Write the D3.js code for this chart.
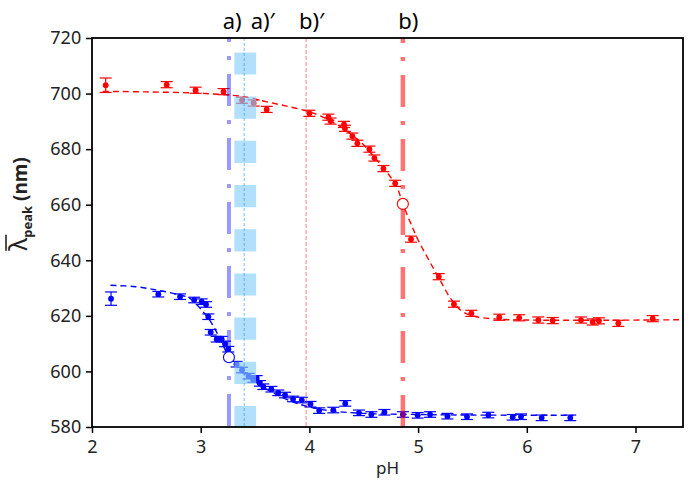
<!DOCTYPE html>
<html><head><meta charset="utf-8">
<script src="https://cdn.jsdelivr.net/npm/d3@7"></script>
<style>body{margin:0;background:#fff;}svg{display:block;font-family:"Noto Sans","Open Sans",sans-serif;}</style>
</head><body><div id="chart"></div>
<script>
// ---- data ----
const xTicks = [2,3,4,5,6,7];
const yTicks = [580,600,620,640,660,680,700,720];

const redPH  = [2.126,2.687,2.953,3.21,3.38,3.487,3.607,4.0,4.175,4.195,4.318,4.327,4.395,4.441,4.552,4.598,4.681,4.789,4.935,5.19,5.33,5.49,5.747,5.93,6.106,6.238,6.499,6.606,6.664,6.842,7.158];
const redVal = [703.0,703.2,701.2,700.7,697.6,696.6,694.3,692.9,691.5,690.1,688.9,687.5,684.7,682.1,680.0,676.8,673.0,667.7,647.6,634.1,624.2,620.9,619.5,619.3,618.5,618.3,618.5,617.8,618.2,617.3,619.0];
const redErr = [2.6,1.1,1.1,1.1,1.1,1.1,1.1,1.1,1.1,1.1,1.1,1.1,1.1,1.1,1.1,1.1,1.1,1.1,1.1,1.1,1.1,1.1,1.1,1.1,1.1,1.1,1.1,1.1,1.1,1.1,1.1];
const redMid = [4.86, 660.3];

const bluePH  = [2.175,2.61,2.81,2.94,3.009,3.049,3.07,3.092,3.147,3.193,3.224,3.254,3.33,3.38,3.44,3.484,3.515,3.545,3.576,3.65,3.714,3.776,3.85,3.93,4.01,4.09,4.22,4.33,4.456,4.57,4.69,4.86,4.996,5.11,5.27,5.45,5.646,5.87,5.947,6.137,6.4];
const blueVal = [626.2,627.8,626.9,625.7,625.1,624.1,619.7,614.1,611.6,611.6,609.9,608.0,602.6,600.5,598.3,597.1,597.5,595.7,594.5,593.6,592.3,591.5,590.1,589.7,588.2,585.9,586.1,588.5,585.1,584.5,585.3,584.5,584.2,584.5,583.9,583.7,584.3,583.5,583.7,583.3,583.3];
const blueErr = [2.4,1.0,1.0,1.0,1.0,1.0,1.0,1.0,1.0,1.0,1.0,1.0,1.0,1.0,1.0,1.0,1.0,1.0,1.0,1.0,1.0,1.0,1.0,1.0,1.0,1.0,1.0,1.0,1.0,1.0,1.0,1.0,1.0,1.0,1.0,1.0,1.0,1.0,1.0,1.0,1.0];
const blueMid = [3.26, 605.1];

const redFitPH  = [2.1,2.5,3.0,3.39,3.6,3.9,4.0,4.1,4.3,4.5,4.6,4.7,4.8,4.86,4.93,5.0,5.1,5.2,5.3,5.4,5.5,5.7,6.0,6.6,7.4];
const redFitVal = [700.8,700.6,700.1,698.9,697.1,694.5,693.4,692.0,687.7,681.5,677.0,672.3,666.8,660.3,653.5,647.3,640.0,633.0,626.2,621.8,620.0,618.9,618.5,618.4,618.6];
const blueFitPH  = [2.17,2.4,2.61,2.8,2.9,3.0,3.1,3.18,3.26,3.35,3.45,3.55,3.7,3.85,4.0,4.2,4.5,5.0,5.5,6.43];
const blueFitVal = [631.0,630.5,629.2,627.6,626.3,622.5,617.4,611.5,605.3,601.0,597.6,595.0,591.6,589.0,587.2,585.8,584.9,584.5,584.3,584.2];

const markerLabels = ["a)","a)\u2032","b)\u2032","b)"];
const markerPH = [3.26, 3.40, 3.97, 4.86];
const markerLabelPH = [3.29, 3.57, 4.02, 4.91];
const bandPH = [3.31, 3.51];

// ---- layout ----
const W = 689, H = 486;
const L = 92, R = 683, T = 38, B = 427;
const svg = d3.select("#chart").append("svg").attr("width", W).attr("height", H);
const x = d3.scaleLinear().domain([2, 2 + (R - L) / 108.7]).range([L, R]);
const y = d3.scaleLinear().domain([580, 720]).range([B, T]);

const RED = "#ff0000", BLUE = "#0000ff";
const plot = svg.append("g");

function errBars(ph, val, err, col) {
  const g = plot.append("g").attr("stroke", col).attr("stroke-width", 1.2);
  ph.forEach((p, i) => {
    const cx = x(p), y1 = y(val[i] + err[i]), y2 = y(val[i] - err[i]);
    g.append("line").attr("x1", cx).attr("x2", cx).attr("y1", y1).attr("y2", y2);
    g.append("line").attr("x1", cx - 6).attr("x2", cx + 6).attr("y1", y1).attr("y2", y1);
    g.append("line").attr("x1", cx - 6).attr("x2", cx + 6).attr("y1", y2).attr("y2", y2);
  });
}
function fitLine(ph, val, col) {
  const line = d3.line().x(d => x(d[0])).y(d => y(d[1])).curve(d3.curveCatmullRom);
  plot.append("path").attr("d", line(ph.map((p, i) => [p, val[i]])))
    .attr("fill", "none").attr("stroke", col).attr("stroke-width", 1.4).attr("stroke-dasharray", "6,4");
}
function dots(ph, val, col) {
  plot.append("g").selectAll("circle").data(ph).join("circle")
    .attr("cx", d => x(d)).attr("cy", (d, i) => y(val[i])).attr("r", 2.9).attr("fill", col);
}

fitLine(redFitPH, redFitVal, RED);
fitLine(blueFitPH, blueFitVal, BLUE);
errBars(redPH, redVal, redErr, RED);
errBars(bluePH, blueVal, blueErr, BLUE);
dots(redPH, redVal, RED);
dots(bluePH, blueVal, BLUE);

// ---- vertical markers (on top, translucent) ----
const vg = svg.append("g");
vg.append("line").attr("x1", x((bandPH[0] + bandPH[1]) / 2)).attr("x2", x((bandPH[0] + bandPH[1]) / 2))
  .attr("y1", T).attr("y2", B).attr("stroke", "#87cefa").attr("stroke-opacity", 0.65)
  .attr("stroke-width", x(bandPH[1]) - x(bandPH[0])).attr("stroke-dasharray", "22.2,22").attr("stroke-dashoffset", 29.8);
vg.append("line").attr("x1", x(markerPH[1])).attr("x2", x(markerPH[1])).attr("y1", T).attr("y2", B)
  .attr("stroke", "#1e90ff").attr("stroke-opacity", 0.6).attr("stroke-width", 1).attr("stroke-dasharray", "3,2");
vg.append("line").attr("x1", x(markerPH[0])).attr("x2", x(markerPH[0])).attr("y1", T).attr("y2", B)
  .attr("stroke", "#0000ff").attr("stroke-opacity", 0.4).attr("stroke-width", 4).attr("stroke-dasharray", "32,14,4,14").attr("stroke-dashoffset", 28);
vg.append("line").attr("x1", x(markerPH[2])).attr("x2", x(markerPH[2])).attr("y1", T).attr("y2", B)
  .attr("stroke", "#ff0000").attr("stroke-opacity", 0.5).attr("stroke-width", 1).attr("stroke-dasharray", "4,2");
vg.append("line").attr("x1", x(markerPH[3])).attr("x2", x(markerPH[3])).attr("y1", T).attr("y2", B)
  .attr("stroke", "#ff0000").attr("stroke-opacity", 0.55).attr("stroke-width", 4.5).attr("stroke-dasharray", "32,14,4,14").attr("stroke-dashoffset", 27);

// hollow midpoint markers above the vertical lines
svg.append("circle").attr("cx", x(redMid[0])).attr("cy", y(redMid[1])).attr("r", 5.5).attr("fill", "#fff").attr("stroke", RED).attr("stroke-width", 1.1);
svg.append("circle").attr("cx", x(blueMid[0])).attr("cy", y(blueMid[1])).attr("r", 5.5).attr("fill", "#fff").attr("stroke", BLUE).attr("stroke-width", 1.1);

svg.append("g").selectAll("text").data(markerLabels).join("text")
  .attr("x", (d, i) => x(markerLabelPH[i])).attr("y", 29).attr("text-anchor", "middle")
  .attr("font-size", 22).attr("fill", "#000").text(d => d);

// ---- axes ----
const xAxis = svg.append("g").attr("transform", `translate(0,${B})`)
  .call(d3.axisBottom(x).tickValues(xTicks).tickFormat(d3.format("d")).tickSize(6).tickSizeOuter(0));
const yAxis = svg.append("g").attr("transform", `translate(${L},0)`)
  .call(d3.axisLeft(y).tickValues(yTicks).tickFormat(d3.format("d")).tickSize(6).tickSizeOuter(0));
[xAxis, yAxis].forEach(a => {
  a.select(".domain").remove();
  a.selectAll("line").attr("stroke", "#000").attr("stroke-width", 1.5);
  a.selectAll("text").attr("font-size", 18).attr("fill", "#222").style("font-family", '"Noto Sans","Open Sans",sans-serif');
});
xAxis.selectAll("text").attr("dy", "0.95em");
yAxis.selectAll("text").attr("dx", "-0.1em");
svg.append("rect").attr("x", L).attr("y", T).attr("width", R - L).attr("height", B - T)
  .attr("fill", "none").attr("stroke", "#000").attr("stroke-width", 1.8);

svg.append("text").attr("x", (L + R) / 2).attr("y", 474).attr("text-anchor", "middle")
  .attr("font-size", 17).attr("fill", "#222").text("pH");

// y label
const yl = svg.append("g").attr("transform", "translate(27,204) rotate(-90)");
const yt = yl.append("text").attr("text-anchor", "middle").attr("fill", "#222").attr("font-size", 19).attr("font-weight", "bold");
yt.append("tspan").attr("font-weight", "normal").attr("font-size", 25).text("\u03bb");
yt.append("tspan").attr("font-size", 13).attr("dy", 5).text("peak");
yt.append("tspan").attr("dy", -5).text(" (nm)");
const sx = yt.node().getStartPositionOfChar(0).x;
const lw = yt.node().getSubStringLength(0, 1);
yl.append("line").attr("x1", sx).attr("x2", sx + lw + 3).attr("y1", -21).attr("y2", -21)
  .attr("stroke", "#222").attr("stroke-width", 1.6);
</script></body></html>
